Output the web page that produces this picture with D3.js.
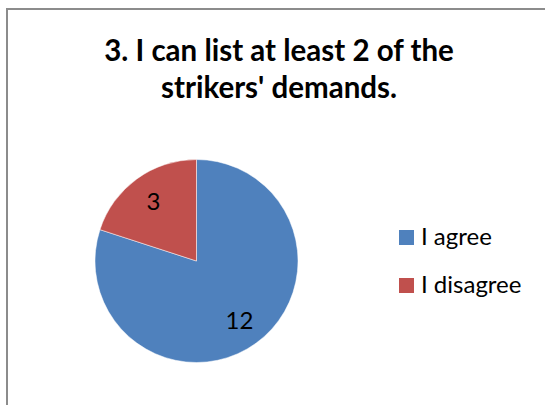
<!DOCTYPE html>
<html>
<head>
<meta charset="utf-8">
<script src="https://cdn.jsdelivr.net/npm/d3@7"></script>
<style>
  html, body { margin: 0; padding: 0; background: #fff; }
  svg { display: block; }
  text { font-family: Lato, "Open Sans", sans-serif; }
</style>
</head>
<body>
<script>
// Survey answers for question 3
const categories = ["I agree", "I disagree"];
const counts = [12, 3];
const sliceColors = ["#4F81BD", "#C0504D"];
const titleLines = ["3. I can list at least 2 of the", "strikers' demands."];

const W = 545, H = 405;
const svg = d3.select("body").append("svg")
  .attr("width", W).attr("height", H);

// Chart frame (runs past the right and bottom edges)
svg.append("rect")
  .attr("x", 7).attr("y", 9)
  .attr("width", W + 10).attr("height", H + 10)
  .attr("fill", "#fff")
  .attr("stroke", "#8c8c8c")
  .attr("stroke-width", 2);

// Title
const title = svg.append("text")
  .attr("text-anchor", "middle")
  .attr("font-weight", "bold")
  .attr("font-size", 29.5)
  .attr("fill", "#000");
title.selectAll("tspan").data(titleLines).join("tspan")
  .attr("x", 279)
  .attr("y", (d, i) => 61 + i * 37)
  .text(d => d);

// Pie
const cx = 196.5, cy = 261, r = 101.5;
const color = d3.scaleOrdinal().domain(categories).range(sliceColors);
const pie = d3.pie().sort(null).value(d => d.value);
const arcs = pie(categories.map((c, i) => ({ name: c, value: counts[i] })));
const arc = d3.arc().innerRadius(0).outerRadius(r);
const labelArc = d3.arc().innerRadius(r * 0.72).outerRadius(r * 0.72);

const g = svg.append("g").attr("transform", `translate(${cx},${cy})`);
g.selectAll("path").data(arcs).join("path")
  .attr("d", arc)
  .attr("fill", d => color(d.data.name))
  .attr("stroke", "#fff")
  .attr("stroke-width", 0.5);

g.selectAll("text.val").data(arcs).join("text")
  .attr("class", "val")
  .attr("transform", d => `translate(${labelArc.centroid(d)})`)
  .attr("text-anchor", "middle")
  .attr("dy", "0.35em")
  .attr("font-size", 24)
  .attr("fill", "#000")
  .text(d => d.data.value);

// Legend
const legend = svg.append("g").attr("transform", "translate(399,230)");
const item = legend.selectAll("g").data(categories).join("g")
  .attr("transform", (d, i) => `translate(0,${i * 48})`);
item.append("rect")
  .attr("width", 15).attr("height", 15)
  .attr("fill", d => color(d));
item.append("text")
  .attr("x", 22).attr("y", 15)
  .attr("font-size", 24)
  .attr("fill", "#000")
  .text(d => d);
</script>
</body>
</html>
